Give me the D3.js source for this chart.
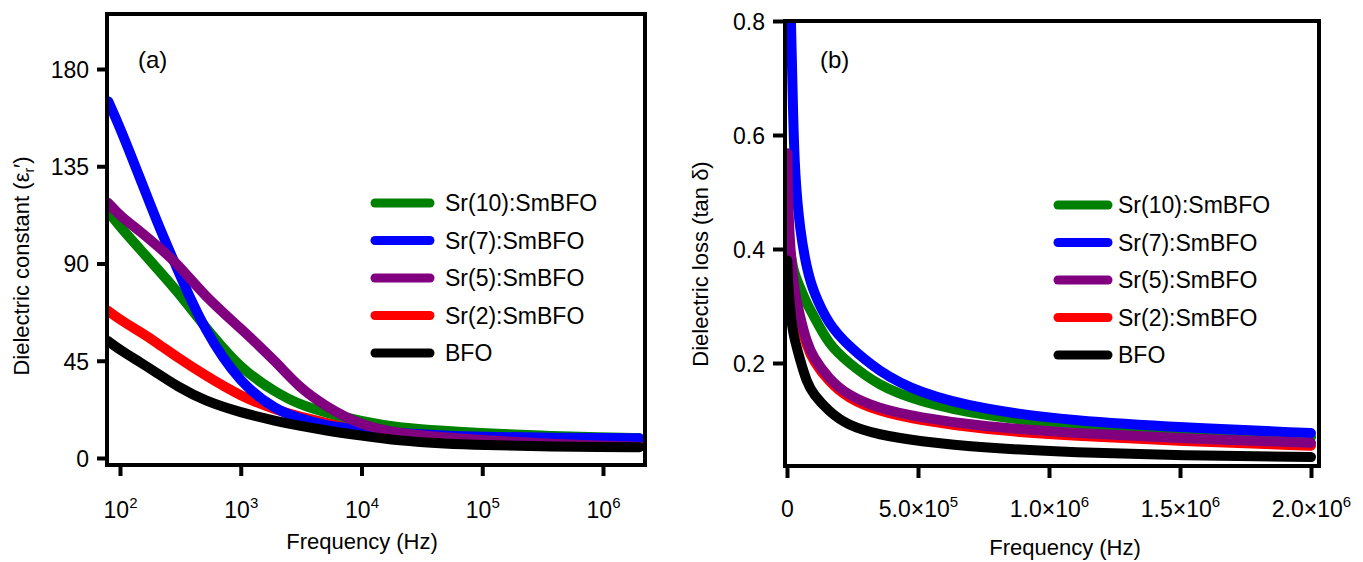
<!DOCTYPE html>
<meta charset="utf-8">
<script src="https://d3js.org/d3.v7.min.js"></script>
<style>
  body { margin: 0; background: #fff; }
  text { font-family: "Liberation Sans", Arial, Helvetica, sans-serif; fill: #000; }
  .tick-lbl text { font-size: 23px; }
  .title { font-size: 22px; }
  .lgd { font-size: 23px; }
  .panel { font-size: 24px; }
</style>
<div id="my_dataviz"></div>
<script>

// series, in legend order
var names  = ["Sr(10):SmBFO", "Sr(7):SmBFO", "Sr(5):SmBFO", "Sr(2):SmBFO", "BFO"];
var colors = ["#008000", "#0000ff", "#800080", "#ff0000", "#000000"];
var drawOrder = [3, 0, 1, 2, 4];   // bottom first

// (a) dielectric constant vs frequency (log axis)
var freqA   = [80, 100, 150, 200, 300, 500, 1000, 2000, 3000, 5000, 1e4, 2e4, 5e4, 1e5, 3e5, 1e6, 2e6];
var epsSr10 = [114, 107, 96, 88, 77, 61, 41, 30, 25, 21, 17, 14, 12.5, 11.5, 10.3, 9.5, 9.2];
var epsSr7  = [165, 153, 128, 110, 87, 59, 34, 22, 18.5, 15, 13, 11.5, 10.3, 9.8, 9.4, 9.2, 9.1];
var epsSr5  = [118, 112, 104.5, 98.5, 90, 75, 60, 44, 33, 24, 15, 11.5, 9.5, 8.3, 6.8, 5.6, 5.2];
var epsSr2  = [68, 64, 58, 53.5, 46.5, 38.5, 28.5, 22, 19.3, 16.3, 12.8, 10.5, 8.5, 7.4, 6.5, 6, 5.8];
var epsBFO  = [54, 50, 44, 39.5, 33, 26.5, 21, 17, 15, 12.8, 10.3, 8, 6.6, 6, 5.4, 5.1, 5];
var ticksAx = [1e2, 1e3, 1e4, 1e5, 1e6];
var ticksAy = [0, 45, 90, 135, 180];

// (b) dielectric loss vs frequency (linear axis)
var freqB   = [1e3, 5e3, 1.5e4, 2.3e4, 3e4, 5e4, 7.5e4, 1e5, 1.6e5, 2.3e5, 3.5e5, 5e5, 7.5e5, 1.1e6, 1.5e6, 2e6];
var tanSr10 = [0.44, 0.41, 0.39, 0.367, 0.355, 0.332, 0.305, 0.284, 0.232, 0.202, 0.16, 0.133, 0.107, 0.090, 0.079, 0.070];
var tanSr7  = [1.2, 1.0, 0.80, 0.64, 0.53, 0.43, 0.367, 0.325, 0.267, 0.232, 0.185, 0.148, 0.118, 0.098, 0.087, 0.077];
var tanSr5  = [0.568, 0.46, 0.385, 0.35, 0.325, 0.28, 0.237, 0.21, 0.172, 0.144, 0.12, 0.105, 0.088, 0.077, 0.068, 0.060];
var tanSr2  = [0.40, 0.39, 0.37, 0.34, 0.32, 0.272, 0.23, 0.204, 0.167, 0.139, 0.115, 0.100, 0.083, 0.072, 0.063, 0.055];
var tanBFO  = [0.38, 0.33, 0.28, 0.255, 0.24, 0.205, 0.167, 0.145, 0.115, 0.091, 0.074, 0.063, 0.051, 0.043, 0.038, 0.035];
var ticksBx = [0, 5e5, 1e6, 1.5e6, 2e6];
var ticksBy = [0.2, 0.4, 0.6, 0.8];

var seriesA = [epsSr10, epsSr7, epsSr5, epsSr2, epsBFO];
var seriesB = [tanSr10, tanSr7, tanSr5, tanSr2, tanBFO];

var svg = d3.select("#my_dataviz")
  .append("svg")
    .attr("width", 1363)
    .attr("height", 562);

// ---------- panel (a) ----------
var frameA = {left: 107, top: 14, right: 645, bottom: 465};
var xA = d3.scaleLog().domain([100, 1e6]).range([120, 603]);
var yA = d3.scaleLinear().domain([0, 180]).range([458, 69]);

// ---------- panel (b) ----------
var frameB = {left: 785, top: 21, right: 1319, bottom: 466};
var xB = d3.scaleLinear().domain([0, 2e6]).range([787, 1311]);
var yB = d3.scaleLinear().domain([0, 0.8]).range([477, 21]);

function drawPanel(id, frame, x, y, freq, series) {
  svg.append("clipPath").attr("id", id)
    .append("rect")
      .attr("x", frame.left + 2).attr("y", frame.top + 2)
      .attr("width", frame.right - frame.left - 4)
      .attr("height", frame.bottom - frame.top - 4);

  var line = d3.line()
    .x(function(d) { return x(d[0]); })
    .y(function(d) { return y(d[1]); })
    .curve(d3.curveBasis);

  var g = svg.append("g").attr("clip-path", "url(#" + id + ")");
  drawOrder.forEach(function(i) {
    g.append("path")
      .datum(freq.map(function(f, k) { return [f, series[i][k]]; }))
      .attr("fill", "none")
      .attr("stroke", colors[i])
      .attr("stroke-width", 10)
      .attr("stroke-linecap", "round")
      .attr("stroke-linejoin", "round")
      .attr("d", line);
  });

  svg.append("rect")
    .attr("x", frame.left).attr("y", frame.top)
    .attr("width", frame.right - frame.left)
    .attr("height", frame.bottom - frame.top)
    .attr("fill", "none")
    .attr("stroke", "#000")
    .attr("stroke-width", 4);
}

drawPanel("clipA", frameA, xA, yA, freqA, seriesA);
drawPanel("clipB", frameB, xB, yB, freqB, seriesB);

// axes (a)
var axAx = svg.append("g")
  .attr("class", "tick-lbl")
  .attr("transform", "translate(0," + frameA.bottom + ")")
  .call(d3.axisBottom(xA).tickValues(ticksAx).tickSize(11));
axAx.selectAll(".tick text").each(function(d) {
  var t = d3.select(this).text(null).attr("y", 53).attr("dy", null);
  t.append("tspan").text("10");
  t.append("tspan").attr("dy", -10).attr("font-size", 15).text(Math.round(Math.log10(d)));
});

var axAy = svg.append("g")
  .attr("class", "tick-lbl")
  .attr("transform", "translate(" + frameA.left + ",0)")
  .call(d3.axisLeft(yA).tickValues(ticksAy).tickSize(10).tickPadding(8));

// axes (b)
var axBx = svg.append("g")
  .attr("class", "tick-lbl")
  .attr("transform", "translate(0," + frameB.bottom + ")")
  .call(d3.axisBottom(xB).tickValues(ticksBx).tickSize(12));
axBx.selectAll(".tick text").each(function(d) {
  var t = d3.select(this).text(null).attr("y", 51).attr("dy", null);
  if (d === 0) { t.text("0"); return; }
  var e = Math.floor(Math.log10(d));
  t.append("tspan").text((d / Math.pow(10, e)).toFixed(1) + "\u00d710");
  t.append("tspan").attr("dy", -10).attr("font-size", 15).text(e);
});

var axBy = svg.append("g")
  .attr("class", "tick-lbl")
  .attr("transform", "translate(" + frameB.left + ",0)")
  .call(d3.axisLeft(yB).tickValues(ticksBy).tickSize(12).tickPadding(8).tickFormat(d3.format(".1f")));

[axAx, axAy, axBx, axBy].forEach(function(a) {
  a.select(".domain").remove();
  a.selectAll(".tick line").attr("stroke", "#000").attr("stroke-width", 4);
  a.attr("font-size", null).attr("font-family", null);
});
axAy.selectAll(".tick text").attr("dy", "0.36em");
axBy.selectAll(".tick text").attr("dy", "0.36em");

// axis titles
svg.append("text").attr("class", "title")
  .attr("x", 362).attr("y", 549).attr("text-anchor", "middle")
  .text("Frequency (Hz)");
svg.append("text").attr("class", "title")
  .attr("x", 1065).attr("y", 555).attr("text-anchor", "middle")
  .text("Frequency (Hz)");

var tA = svg.append("text").attr("class", "title")
  .attr("transform", "translate(29,266) rotate(-90)")
  .attr("text-anchor", "middle");
tA.append("tspan").text("Dielectric constant (\u03b5");
tA.append("tspan").attr("font-size", 14).attr("dy", 5).text("r");
tA.append("tspan").attr("dy", -5).text("\u2032)");

svg.append("text").attr("class", "title")
  .attr("transform", "translate(708,264) rotate(-90)")
  .attr("text-anchor", "middle")
  .text("Dielectric loss (tan \u03b4)");

// panel tags
svg.append("text").attr("class", "panel").attr("x", 138).attr("y", 68).text("(a)");
svg.append("text").attr("class", "panel").attr("x", 820).attr("y", 68).text("(b)");

// legends
function legend(x0, x1, tx, y0) {
  names.forEach(function(n, i) {
    var yy = y0 + i * 37.5;
    svg.append("line")
      .attr("x1", x0).attr("x2", x1).attr("y1", yy).attr("y2", yy)
      .attr("stroke", colors[i]).attr("stroke-width", 9).attr("stroke-linecap", "round");
    svg.append("text").attr("class", "lgd")
      .attr("x", tx).attr("y", yy).attr("dy", "0.36em")
      .text(n);
  });
}
legend(375, 430, 445, 203);
legend(1058, 1108, 1118, 205);

</script>
